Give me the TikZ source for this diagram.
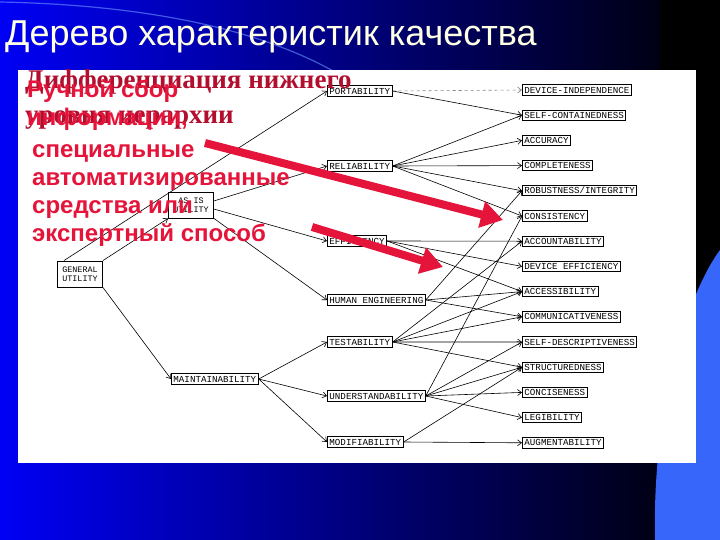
\documentclass[tikz,border=0pt]{standalone}
\usepackage{fontspec}
\setmainfont{Liberation Sans}
\setmonofont{Liberation Mono}
\newfontfamily\serifbold{Liberation Serif}
\usepackage{xcolor}
\usetikzlibrary{arrows.meta}

\definecolor{slidered}{RGB}{228,20,58}
\definecolor{darkcrimson}{RGB}{178,14,46}
\definecolor{titlecol}{RGB}{255,255,228}
\definecolor{bandblue}{RGB}{55,102,250}

\begin{document}
\begin{tikzpicture}[
        x=1pt, y=-1pt,
        factor/.style={rectangle, draw, line width=0.9pt, fill=white, anchor=west, inner xsep=2pt, inner ysep=2pt, text height=6.3pt, text depth=0pt, font=\ttfamily\fontsize{9.2}{9}\selectfont},
        group/.style={rectangle, draw, line width=0.9pt, fill=white, align=center, minimum width=45pt, minimum height=26pt, inner sep=1pt, font=\ttfamily\fontsize{8.4}{9}\selectfont},
        link/.style={-{Straight Barb[length=4pt,width=6pt]}, line width=0.6pt},
        hint/.style={-{Triangle[length=22pt,width=26pt]}, line width=8pt, draw=slidered},
        slide_text/.style={anchor=base west, inner sep=0pt, align=left}
    ]
        \useasboundingbox (0,0) rectangle (720,540);

        % Slide background
        \shade[left color={rgb,255:red,0;green,0;blue,245}, middle color={rgb,255:red,0;green,0;blue,210}, right color={rgb,255:red,0;green,0;blue,20}] (0,0) rectangle (660,540);
        \fill[black] (660,0) rectangle (720,540);
        \fill[bandblue] (720,250) .. controls (690,290) and (652,400) .. (655,540) -- (720,540) -- cycle;
        \draw[line width=1.2pt, color={rgb,255:red,110;green,150;blue,255}, opacity=0.6] (0,2) .. controls (150,5) and (260,30) .. (335,72);

        % Title
        \node[anchor=base west, inner sep=0pt, text=titlecol, font=\fontsize{36}{40}\selectfont] (title) at (5,46) {Дерево характеристик качества};

        % Scanned figure area
        \fill[white] (18,70) rectangle (696,463);

        % Top levels of the tree
        \node[group] (general) at (80,274) {GENERAL\\UTILITY};
        \node[group] (as_is) at (191,205) {AS IS\\UTILITY};
        \node[factor] (maintain) at (171,379) {MAINTAINABILITY};

        % Intermediate characteristics
        \node[factor] (portab) at (327,91) {PORTABILITY};
        \node[factor] (reliab) at (327,166) {RELIABILITY};
        \node[factor] (effic) at (327,241) {EFFICIENCY};
        \node[factor] (human) at (327,300) {HUMAN ENGINEERING};
        \node[factor] (testab) at (327,342) {TESTABILITY};
        \node[factor] (underst) at (327,396) {UNDERSTANDABILITY};
        \node[factor] (modif) at (327,442) {MODIFIABILITY};

        % Primitive characteristics
        \foreach \name/\lbl [count=\i from 0] in {devind/DEVICE-INDEPENDENCE, selfcont/SELF-CONTAINEDNESS, accur/ACCURACY, complete/COMPLETENESS, robust/{ROBUSTNESS/INTEGRITY}, consist/CONSISTENCY, account/ACCOUNTABILITY, deveff/DEVICE EFFICIENCY, access/ACCESSIBILITY, commun/COMMUNICATIVENESS, selfdesc/SELF-DESCRIPTIVENESS, struct/STRUCTUREDNESS, concise/CONCISENESS, legib/LEGIBILITY, augment/AUGMENTABILITY}
            \node[factor] (\name) at (522,90+25.2*\i) {\lbl};

        % Connections of the upper levels
        \draw[link] (general.140) -- (portab.west);
        \draw[link] (general.north east) -- (as_is.south west);
        \draw[link] (general.south east) -- (maintain.west);
        \draw[link] (as_is.10) -- (reliab.west);
        \draw[link] (as_is.-10) -- (effic.west);
        \draw[link] (as_is.south east) -- (human.west);
        \draw[link] (maintain.east) -- (testab.west);
        \draw[link] (maintain.east) -- (underst.west);
        \draw[link] (maintain.east) -- (modif.west);

        % Connections to the primitives
        \draw[link, dashed, gray] (portab.east) -- (devind.west);
        \foreach \src/\dst in {portab/selfcont, reliab/selfcont, reliab/accur, reliab/complete, reliab/robust, reliab/consist, effic/account, effic/deveff, effic/access, human/robust, human/access, human/commun, testab/account, testab/access, testab/commun, testab/selfdesc, testab/struct, underst/consist, underst/selfdesc, underst/struct, underst/concise, underst/legib, modif/struct, modif/augment}
            \draw[link] (\src.east) -- (\dst.west);

        % Texts laid over the figure (anchored at the last baseline)
        \node[slide_text, text=darkcrimson, font=\serifbold\bfseries\fontsize{27}{35}\selectfont] (lower_level) at (25,124) {Дифференциация нижнего\\уровня иерархии};
        \node[slide_text, text=slidered, font=\bfseries\fontsize{24}{28}\selectfont] (manual) at (27,126) {Ручной сбор\\информации,};
        \node[slide_text, text=slidered, font=\bfseries\fontsize{24}{28}\selectfont] (means) at (32,241) {специальные\\автоматизированные\\средства или\\экспертный способ};

        % Red pointers
        \coordinate (hint_a) at (205,143);
        \coordinate (hint_a_tip) at (503,220);
        \coordinate (hint_b) at (312,227);
        \coordinate (hint_b_tip) at (443,267);
        \draw[hint] (hint_a) -- (hint_a_tip);
        \draw[hint] (hint_b) -- (hint_b_tip);

    \end{tikzpicture}
\end{document}
